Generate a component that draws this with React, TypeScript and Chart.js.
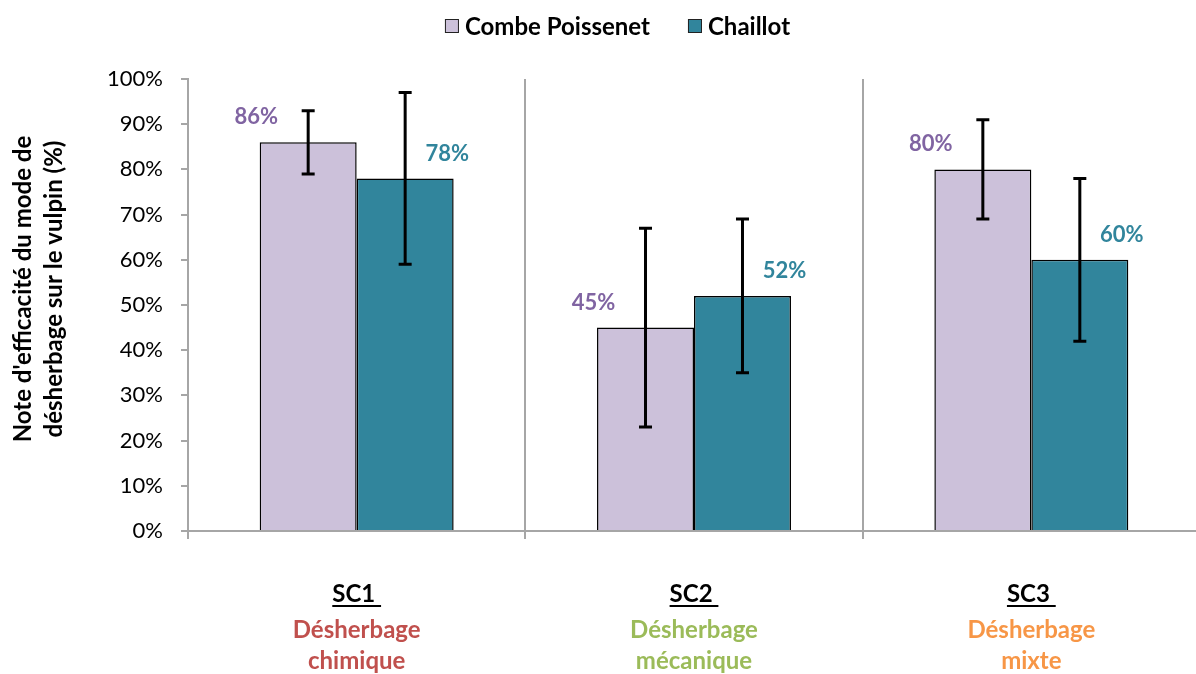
import React, { useEffect, useRef } from "react";
import { Chart, registerables } from "chart.js";

Chart.register(...registerables);

const categories = ["SC1", "SC2", "SC3"];
const subLabels1 = ["Désherbage", "Désherbage", "Désherbage"];
const subLabels2 = ["chimique", "mécanique", "mixte"];
const subColors = ["#C0504D", "#9BBB59", "#F79646"];
const seriesNames = ["Combe Poissenet", "Chaillot"];
const combeValues = [86, 45, 80];
const combeErrors = [7, 22, 11];
const chaillotValues = [78, 52, 60];
const chaillotErrors = [19, 17, 18];
const yTicks = [0, 10, 20, 30, 40, 50, 60, 70, 80, 90, 100];
const yTitle = ["Note d'efficacité du mode de", "désherbage sur le vulpin (%)"];

const FONT = "Lato, 'Open Sans', sans-serif";
const fills = ["#CCC1DA", "#31859C"];
const labelColors = ["#8064A2", "#31859C"];

const errorBarPlugin = {
  id: "errorBars",
  afterDatasetsDraw(chart: any) {
    const ctx = chart.ctx;
    const y = chart.scales.y;
    const errs = [combeErrors, chaillotErrors];
    chart.data.datasets.forEach((ds: any, di: number) => {
      const meta = chart.getDatasetMeta(di);
      meta.data.forEach((bar: any, i: number) => {
        const v = ds.data[i];
        const e = errs[di][i];
        const top = y.getPixelForValue(v + e);
        const bot = y.getPixelForValue(v - e);
        ctx.save();
        ctx.strokeStyle = "#000";
        ctx.lineWidth = 3;
        ctx.beginPath();
        ctx.moveTo(bar.x, top);
        ctx.lineTo(bar.x, bot);
        ctx.moveTo(bar.x - 6.5, top);
        ctx.lineTo(bar.x + 6.5, top);
        ctx.moveTo(bar.x - 6.5, bot);
        ctx.lineTo(bar.x + 6.5, bot);
        ctx.stroke();
        ctx.restore();
      });
    });
  },
};

const valueLabelPlugin = {
  id: "valueLabels",
  afterDraw(chart: any) {
    const ctx = chart.ctx;
    const dxs = [-52, 42];
    chart.data.datasets.forEach((ds: any, di: number) => {
      const meta = chart.getDatasetMeta(di);
      meta.data.forEach((bar: any, i: number) => {
        ctx.save();
        ctx.font = `bold 22px ${FONT}`;
        ctx.fillStyle = labelColors[di];
        ctx.textAlign = "center";
        ctx.textBaseline = "middle";
        ctx.fillText(ds.data[i] + "%", bar.x + dxs[di], bar.y - 25);
        ctx.restore();
      });
    });
  },
};

const decorPlugin = {
  id: "decor",
  afterDraw(chart: any) {
    const ctx = chart.ctx;
    const x = chart.scales.x;
    const area = chart.chartArea;
    // x category labels
    categories.forEach((c, i) => {
      const cx = x.getPixelForValue(i);
      ctx.save();
      ctx.font = `bold 24px ${FONT}`;
      ctx.textAlign = "center";
      ctx.textBaseline = "middle";
      ctx.fillStyle = "#000";
      const txt = c + " ";
      const w = ctx.measureText(txt).width;
      ctx.fillText(txt, cx, 594);
      ctx.strokeStyle = "#000";
      ctx.lineWidth = 2;
      ctx.beginPath();
      ctx.moveTo(cx - w / 2, 606);
      ctx.lineTo(cx + w / 2, 606);
      ctx.stroke();
      ctx.fillStyle = subColors[i];
      ctx.fillText(subLabels1[i], cx, 630);
      ctx.fillText(subLabels2[i], cx, 661);
      ctx.restore();
    });
    // y title
    ctx.save();
    ctx.font = `bold 24px ${FONT}`;
    ctx.fillStyle = "#000";
    ctx.textAlign = "center";
    ctx.textBaseline = "middle";
    ctx.translate(0, 289);
    ctx.rotate(-Math.PI / 2);
    ctx.fillText(yTitle[0], 0, 23);
    ctx.fillText(yTitle[1], 0, 54);
    ctx.restore();
    // legend
    ctx.save();
    ctx.font = `bold 24px ${FONT}`;
    ctx.textBaseline = "middle";
    ctx.textAlign = "left";
    const box = 14, gapText = 6, gapItem = 38;
    const widths = seriesNames.map((n) => box + gapText + ctx.measureText(n).width);
    const total = widths[0] + gapItem + widths[1];
    let lx = 617.5 - total / 2;
    const ly = 26;
    seriesNames.forEach((n, i) => {
      ctx.fillStyle = fills[i];
      ctx.fillRect(lx, ly - box / 2, box, box);
      ctx.strokeStyle = "#222";
      ctx.lineWidth = 1;
      ctx.strokeRect(lx + 0.5, ly - box / 2 + 0.5, box - 1, box - 1);
      ctx.fillStyle = "#000";
      ctx.fillText(n, lx + box + gapText, ly + 1);
      lx += widths[i] + gapItem;
    });
    ctx.restore();
  },
};

export default function App() {
  const ref = useRef<HTMLCanvasElement>(null);
  useEffect(() => {
    document.body.style.margin = "0";
    document.body.style.overflow = "hidden";
    const chart = new Chart(ref.current!, {
      type: "bar",
      data: {
        labels: categories,
        datasets: [
          {
            label: seriesNames[0],
            data: combeValues,
            backgroundColor: fills[0],
            borderColor: "#000",
            borderWidth: 1.5,
            categoryPercentage: 0.575,
            barPercentage: 1,
          },
          {
            label: seriesNames[1],
            data: chaillotValues,
            backgroundColor: fills[1],
            borderColor: "#000",
            borderWidth: 1.5,
            categoryPercentage: 0.575,
            barPercentage: 1,
          },
        ],
      },
      options: {
        responsive: false,
        animation: false,
        layout: { padding: { left: 0, right: 10, top: 79, bottom: 143 } },
        plugins: {
          legend: { display: false },
          tooltip: { enabled: false },
        },
        scales: {
          x: {
            afterFit(scale: any) {
              scale.height = 0;
            },
            grid: {
              color: "#A6A6A6",
              lineWidth: 2,
              offset: true,
              tickLength: 8,
            },
            border: { color: "#A6A6A6", width: 2 },
            ticks: { display: false },
          },
          y: {
            min: 0,
            max: 100,
            afterBuildTicks(scale: any) {
              scale.ticks = yTicks.map((v) => ({ value: v }));
            },
            afterFit(scale: any) {
              scale.width = 188;
            },
            grid: {
              drawOnChartArea: false,
              color: "#A6A6A6",
              lineWidth: 2,
              tickLength: 7,
            },
            border: { color: "#A6A6A6", width: 2 },
            ticks: {
              color: "#000",
              padding: 18,
              font: { family: FONT, size: 22 },
              callback: (v: any) => v + "%",
            },
          },
        },
      },
      plugins: [errorBarPlugin, valueLabelPlugin, decorPlugin],
    });
    return () => chart.destroy();
  }, []);
  return (
    <div style={{ position: "fixed", left: 0, top: 0, width: 1196, height: 674, overflow: "hidden", background: "#fff" }}>
      <canvas ref={ref} width={1210} height={674} style={{ display: "block" }} />
    </div>
  );
}
